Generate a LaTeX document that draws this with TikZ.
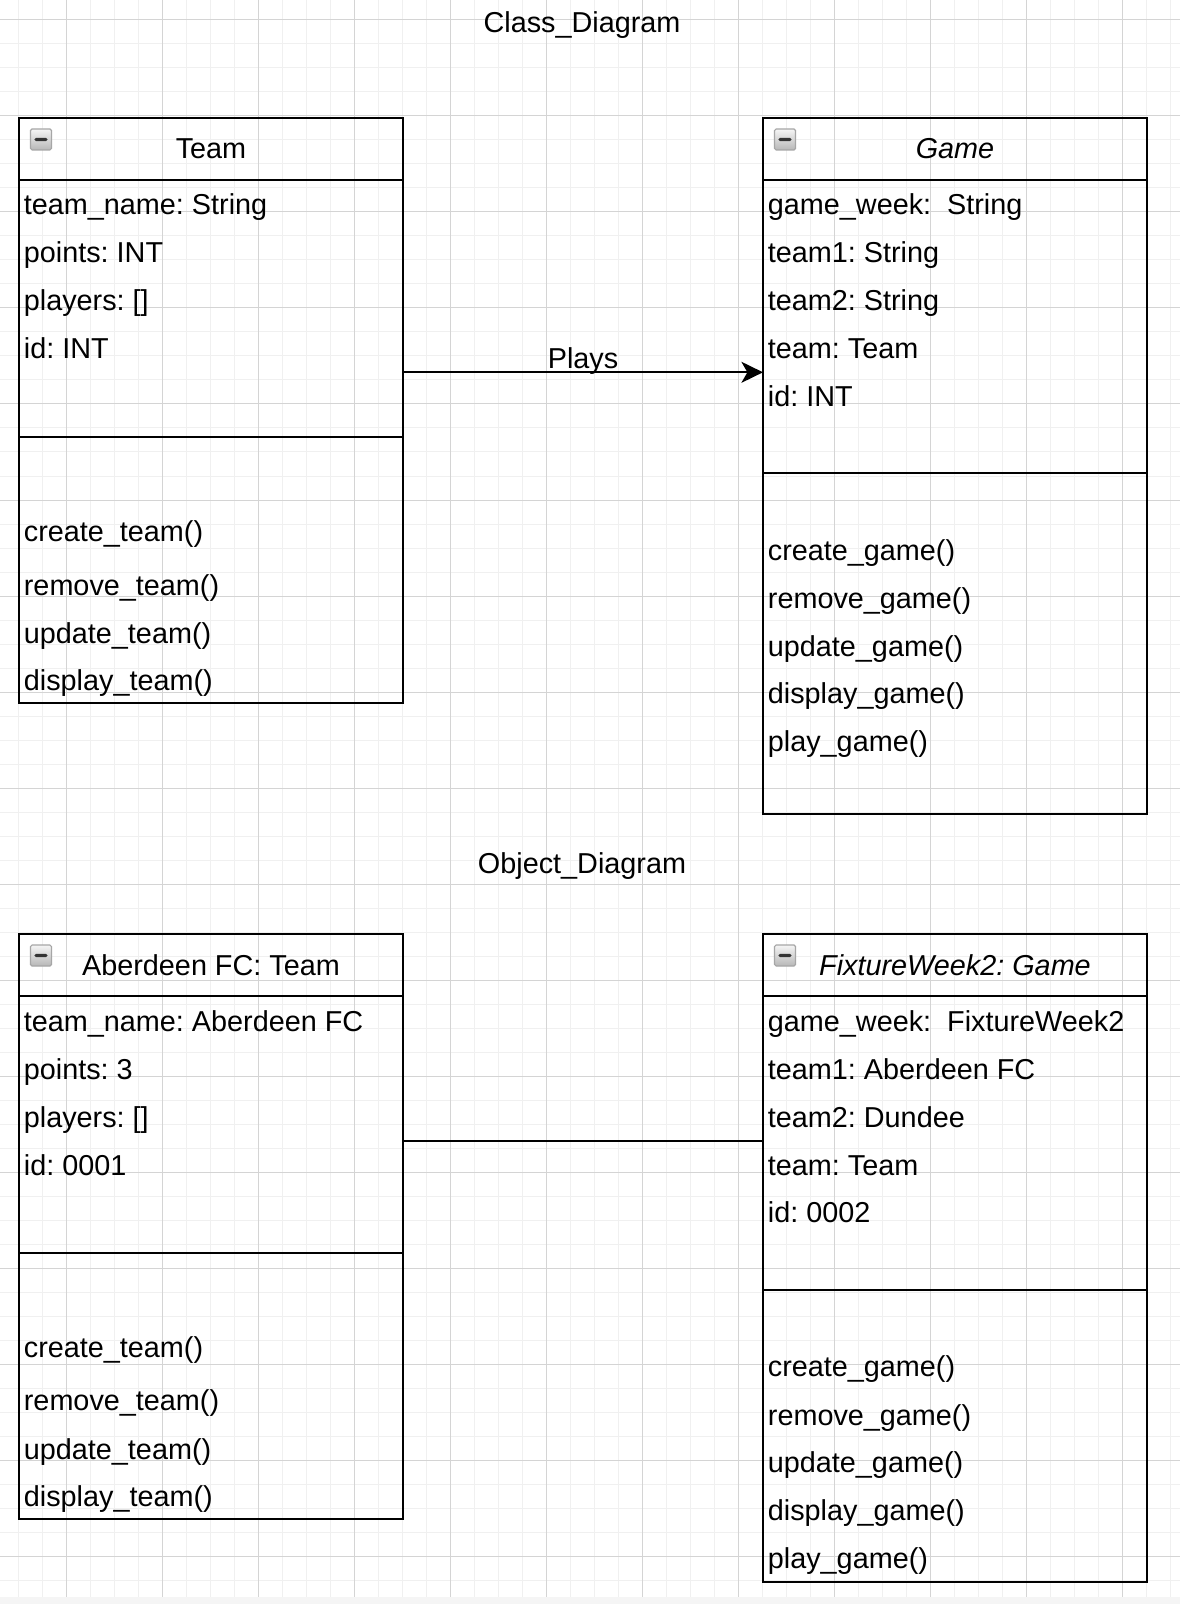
\documentclass[tikz,border=0pt]{standalone}
\usepackage{fontspec}
\setmainfont{Liberation Sans}
\usepackage{tikz}
\usetikzlibrary{positioning, arrows.meta}

\newcommand{\umlfont}{\fontsize{14.4pt}{17pt}\selectfont}

\tikzset{
    box/.style={draw, line width=1pt, minimum width=192pt, outer sep=0pt, inner sep=0pt, font=\umlfont},
    head/.style={box, minimum height=31pt},
    row/.style={anchor=base west, inner sep=0pt, font=\umlfont},
    collapse/.style={draw=black!35, line width=0.6pt, rounded corners=0.8pt,
        top color=black!4, bottom color=black!28, minimum size=10.5pt, inner sep=0pt,
        path picture={\fill[black!80] ([xshift=-3.3pt,yshift=-0.8pt]path picture bounding box.center)
            rectangle ([xshift=3.3pt,yshift=0.8pt]path picture bounding box.center);}},
    gridminor/.style={black!6, line width=0.5pt},
    gridmajor/.style={black!17, line width=0.5pt},
}

\begin{document}
\frenchspacing
\begin{tikzpicture}[x=0.5pt, y=-0.5pt]
        % page and grid
        \fill[white] (0,0) rectangle (1180,1604);
        \useasboundingbox (0,0) rectangle (1180,1604);
        \fill[black!4] (0,1597) rectangle (1180,1604);
        \foreach \x in {18,42,...,1170} \draw[gridminor] (\x,0) -- (\x,1597);
        \foreach \y in {20,44,...,1580} \draw[gridminor] (0,\y) -- (1180,\y);
        \foreach \x in {66,162,...,1122} \draw[gridmajor] (\x,0) -- (\x,1597);
        \foreach \y in {20,116,...,1556} \draw[gridmajor] (0,\y) -- (1180,\y);

        \node[anchor=base, font=\umlfont] (classtitle) at (582,33) {Class\_Diagram};
        \node[anchor=base, font=\umlfont] (objecttitle) at (582,873) {Object\_Diagram};

        % class diagram
        \node[head] (team) at (211,149) {Team};
        \node[box, minimum height=128.5pt, below=0pt of team] (team-attr) {};
        \node[box, minimum height=133pt, below=0pt of team-attr] (team-ops) {};
        \node[collapse] (team-icon) at (41,139.5) {};

        \node[head, right=180pt of team] (game) {\itshape Game};
        \node[box, minimum height=146.5pt, below=0pt of game] (game-attr) {};
        \node[box, minimum height=170.5pt, below=0pt of game-attr] (game-ops) {};
        \node[collapse] (game-icon) at (785,139.5) {};

        \foreach \y/\t [count=\i] in {215/team\_name: String, 263/points: INT, 311/players: [], 359/id: INT}
            \node[row] (team-a\i) at (23.5,\y) {\t};
        \foreach \y/\t [count=\i] in {541.5/create\_team(), 595/remove\_team(), 643/update\_team(), 690.5/display\_team()}
            \node[row] (team-m\i) at (23.5,\y) {\t};
        \foreach \y/\t [count=\i] in {215/game\_week:\ \ String, 263/team1: String, 311/team2: String, 359/team: Team, 407/id: INT}
            \node[row] (game-a\i) at (767.5,\y) {\t};
        \foreach \y/\t [count=\i] in {560/create\_game(), 608/remove\_game(), 656/update\_game(), 703.5/display\_game(), 751.5/play\_game()}
            \node[row] (game-m\i) at (767.5,\y) {\t};

        \coordinate (plays-y) at (0,372.3);
        \draw[-{Stealth[length=10.8pt, width=10.5pt, inset=3pt]}, line width=1pt] (team-attr.east |- plays-y) -- (game-attr.west |- plays-y)
            node[midway, anchor=base, yshift=2pt, font=\umlfont] (plays) {Plays};

        % object diagram
        \node[head] (aberdeen) at (211,965) {Aberdeen FC: Team};
        \node[box, minimum height=128.5pt, below=0pt of aberdeen] (aberdeen-attr) {};
        \node[box, minimum height=133pt, below=0pt of aberdeen-attr] (aberdeen-ops) {};
        \node[collapse] (aberdeen-icon) at (41,955.5) {};

        \node[head, right=180pt of aberdeen] (fixture) {\itshape FixtureWeek2: Game};
        \node[box, minimum height=147pt, below=0pt of fixture] (fixture-attr) {};
        \node[box, minimum height=146pt, below=0pt of fixture-attr] (fixture-ops) {};
        \node[collapse] (fixture-icon) at (785,955.5) {};

        \foreach \y/\t [count=\i] in {1031.5/team\_name: Aberdeen FC, 1079/points: 3, 1127/players: [], 1175/id: 0001}
            \node[row] (aberdeen-a\i) at (23.5,\y) {\t};
        \foreach \y/\t [count=\i] in {1357.5/create\_team(), 1410.5/remove\_team(), 1459/update\_team(), 1506/display\_team()}
            \node[row] (aberdeen-m\i) at (23.5,\y) {\t};
        \foreach \y/\t [count=\i] in {1031.5/game\_week:\ \ FixtureWeek2, 1079.3/team1: Aberdeen FC, 1127.3/team2: Dundee, 1175/team: Team, 1222.7/id: 0002}
            \node[row] (fixture-a\i) at (767.5,\y) {\t};
        \foreach \y/\t [count=\i] in {1376.7/create\_game(), 1425/remove\_game(), 1472.7/update\_game(), 1520/display\_game(), 1568.3/play\_game()}
            \node[row] (fixture-m\i) at (767.5,\y) {\t};

        \coordinate (link-y) at (0,1140.5);
        \draw[line width=1pt] (aberdeen-attr.east |- link-y) -- (fixture-attr.west |- link-y);
    \end{tikzpicture}
\end{document}
